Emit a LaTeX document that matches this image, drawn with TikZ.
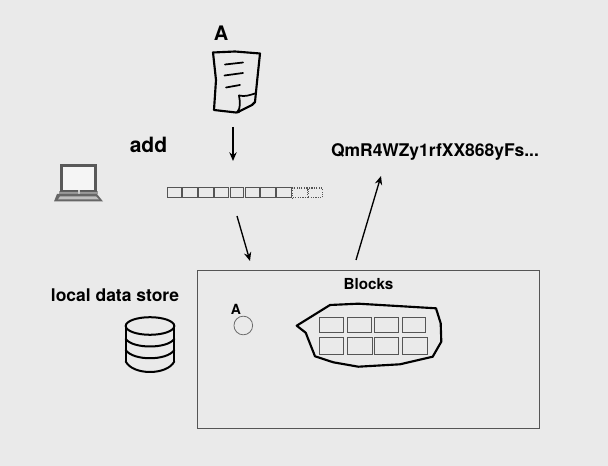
\documentclass[tikz,border=0pt]{standalone}
\usepackage{fontspec}
\setmainfont{TeX Gyre Heros}
\definecolor{bg}{HTML}{EAEAEA}
\definecolor{cellc}{HTML}{555555}
\tikzset{
  px/.style={x=0.75pt,y=-0.75pt},
  lab/.style={inner sep=0pt,font=\bfseries,text=black,anchor=center},
  ink/.style={draw=black,line width=1.3pt,line cap=round,line join=round},
  cell/.style={draw=cellc,line width=0.75pt,minimum height=7.4pt,inner sep=0pt,anchor=north west},
  dcell/.style={cell,draw=cellc,line width=0.8pt,densely dotted},
  blk/.style={draw=cellc,line width=0.6pt,inner sep=0pt,anchor=north west},
  conn/.style={draw=black,line width=1pt,-{Stealth[length=6.5pt,width=5.5pt]}},
}
\usetikzlibrary{arrows.meta}
\begin{document}
\begin{tikzpicture}[px]
\fill[bg] (0,0) rectangle (608,466);
\useasboundingbox (0,0) rectangle (608,466);
% texts
\node[lab,font=\bfseries\fontsize{15}{16}\selectfont] (tA) at (221,33.5) {A};
\node[lab,font=\bfseries\fontsize{15.8}{18}\selectfont] (tadd) at (148.5,145) {add};
\node[lab,font=\bfseries\fontsize{13.1}{15}\selectfont] (thash) at (435,151.5) {QmR4WZy1rfXX868yFs...};
\node[lab,font=\bfseries\fontsize{13.1}{15}\selectfont] (tstore) at (115,295.5) {local data store};
\node[lab,font=\bfseries\fontsize{11.4}{13}\selectfont] (tblocks) at (368.5,284) {Blocks};
\node[lab,font=\bfseries\fontsize{10.5}{12}\selectfont] (ta2) at (236,309) {A};
% document
\draw[ink,line width=1.6pt] (213,52.5) -- (235,51.5) -- (260,53.5) -- (257,82) -- (255,102) -- (252,105) -- (238,112);
\draw[ink,line width=1.6pt] (213,52.5) -- (216,80) -- (214,110) -- (236,112.5) -- (239,112);
\draw[ink,line width=1.3pt] (239,95.5) .. controls (245,97) and (250,95) .. (255,93.5);
\draw[ink,line width=1.3pt] (239,95.5) .. controls (240,102) and (241,108) .. (237,112.5);
\draw[ink,line width=1.3pt] (225,64.5) -- (243,62.5);
\draw[ink,line width=1.3pt] (224.5,75.5) -- (243,73);
\draw[ink,line width=1.3pt] (226,87.5) -- (240,85);
\coordinate (docb) at (233,127);
\coordinate (strt) at (233,161);
% laptop
\fill[black!65] (60,164) rectangle (96.7,192);
\fill[black!60,opacity=.6] (58.5,191) rectangle (98,194);
\fill[gray!8] (62.7,166.7) rectangle (94,190.5);
\fill[white!60!gray] (78,190) rectangle (80,194);
\fill[black!60] (57,194) -- (97,194) -- (103,201.5) -- (54,201.5) -- cycle;
\fill[gray!50] (60,196.5) -- (96,196.5) -- (99,199.5) -- (58,199.5) -- cycle;
% strip
\foreach \n/\x/\w in {0/167.3/13.5,1/182.3/14.3,2/198.3/14.3,3/214.3/14,4/229.5/13.5,5/245.3/13.7,6/260.3/14.7,7/276.3/14.3}{
  \node[cell,minimum width=\w*0.75pt] (s\n) at (\x,187.5) {};
}
\node[dcell,minimum width=10.7pt] (s8) at (292.3,187.5) {};
\node[dcell,minimum width=10.5pt] (s9) at (307.7,187.5) {};
\coordinate (strb) at (237,216);
\coordinate (blkt) at (250,261);
\coordinate (blko) at (356,260);
\coordinate (hashb) at (381,176);
\draw[conn] (docb) -- (strt);
\draw[conn] (strb) -- (blkt);
\draw[conn] (blko) -- (hashb);
% big box
\node[draw=cellc,line width=0.7pt,inner sep=0pt,minimum width=257pt,minimum height=118.5pt,anchor=north west] (box) at (196.7,270.2) {};
% circle
\node[circle,draw=gray!85!black,line width=0.6pt,fill=bg,minimum size=14pt,inner sep=0pt] (circA) at (243.3,325.5) {};
% bubble
\draw[ink,line width=1.6pt] (296.7,325.7) -- (330,305) -- (358.3,303.7) -- (436,308.3) -- (440.7,323.3) -- (441.3,341.7) -- (432.7,356.7) -- (400,364.3) -- (358.3,366.7) -- (333.3,362.3) -- (315,356.3) -- (305.7,332.7) -- cycle;
\foreach \n/\a/\b in {a/319.3/24,b/346.7/24.3,c/374.3/24,d/401.7/23.7}{
  \node[blk,minimum width=\b*0.75pt,minimum height=11.7pt] (r1\n) at (\a,316.7) {};
}
\foreach \n/\a/\b in {a/319.3/24,b/347.3/24.3,c/374.3/24,d/402.3/24.3}{
  \node[blk,minimum width=\b*0.75pt,minimum height=12.3pt] (r2\n) at (\a,337.3) {};
}
% cylinder
\begin{scope}[ink,line width=1.5pt]
\draw (150,326) ellipse [x radius=24.3,y radius=8.8];
\draw (125.7,326) -- (125.7,361.5);
\draw (174.3,326) -- (174.3,361.5);
\draw (125.7,339) .. controls (133,349) and (167,349) .. (174.3,339);
\draw (125.7,350) .. controls (133,361) and (167,361) .. (174.3,350);
\draw (125.7,361.5) .. controls (133,375.5) and (167,375.5) .. (174.3,361.5);
\end{scope}
\end{tikzpicture}
\end{document}
